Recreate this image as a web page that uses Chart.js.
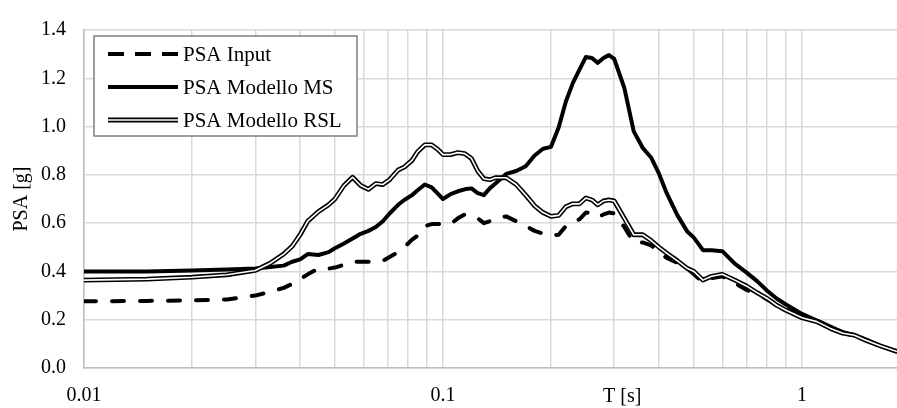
<!DOCTYPE html>
<html>
<head>
<meta charset="utf-8">
<script src="https://cdn.jsdelivr.net/npm/chart.js@4.4.1/dist/chart.umd.min.js"></script>
<style>
  html, body { margin: 0; padding: 0; background: #fff; }
</style>
</head>
<body>
<canvas id="psaChart" width="897" height="408"></canvas>
<script>
// periods T [s]
const periods = [0.01, 0.015, 0.02, 0.025, 0.03, 0.033, 0.036, 0.038, 0.04, 0.042,
  0.045, 0.048, 0.05, 0.053, 0.056, 0.059, 0.062, 0.065, 0.068, 0.071,
  0.075, 0.078, 0.082, 0.085, 0.089, 0.093, 0.097, 0.1, 0.105, 0.11,
  0.115, 0.12, 0.125, 0.13, 0.135, 0.14, 0.15, 0.16, 0.17, 0.18,
  0.19, 0.2, 0.21, 0.22, 0.23, 0.24, 0.25, 0.26, 0.27, 0.28,
  0.29, 0.3, 0.32, 0.34, 0.36, 0.38, 0.4, 0.42, 0.45, 0.48,
  0.5, 0.53, 0.56, 0.6, 0.65, 0.7, 0.75, 0.8, 0.85, 0.9,
  1.0, 1.1, 1.2, 1.3, 1.4, 1.5, 1.65, 1.84];

const psaInput = [0.276, 0.278, 0.28, 0.284, 0.30, 0.316, 0.332, 0.348, 0.368, 0.388,
  0.412, 0.412, 0.416, 0.428, 0.44, 0.44, 0.44, 0.44, 0.444, 0.46,
  0.48, 0.50, 0.532, 0.548, 0.588, 0.596, 0.596, 0.596, 0.596, 0.62,
  0.636, 0.632, 0.62, 0.60, 0.608, 0.62, 0.628, 0.608, 0.588, 0.568,
  0.556, 0.548, 0.552, 0.588, 0.604, 0.616, 0.644, 0.64, 0.624, 0.636,
  0.644, 0.64, 0.584, 0.52, 0.52, 0.508, 0.48, 0.456, 0.436, 0.412,
  0.388, 0.356, 0.372, 0.38, 0.352, 0.324, 0.308, 0.284, 0.264, 0.248,
  0.216, 0.196, 0.172, 0.148, 0.132, 0.116, 0.092, 0.068];

const psaMS = [0.40, 0.40, 0.404, 0.408, 0.412, 0.418, 0.424, 0.44, 0.45, 0.472,
  0.468, 0.48, 0.496, 0.516, 0.536, 0.556, 0.568, 0.584, 0.608, 0.64,
  0.676, 0.696, 0.716, 0.736, 0.76, 0.748, 0.72, 0.70, 0.72, 0.732,
  0.74, 0.744, 0.724, 0.716, 0.744, 0.764, 0.804, 0.816, 0.836, 0.88,
  0.908, 0.916, 0.996, 1.104, 1.18, 1.236, 1.288, 1.284, 1.264, 1.284,
  1.296, 1.28, 1.16, 0.98, 0.912, 0.872, 0.804, 0.724, 0.632, 0.564,
  0.54, 0.488, 0.488, 0.484, 0.432, 0.396, 0.36, 0.32, 0.288, 0.264,
  0.224, 0.196, 0.172, 0.148, 0.136, 0.12, 0.092, 0.068];

const psaRSL = [0.364, 0.368, 0.376, 0.386, 0.404, 0.434, 0.472, 0.504, 0.552, 0.608,
  0.648, 0.676, 0.70, 0.756, 0.79, 0.756, 0.74, 0.764, 0.76, 0.78,
  0.82, 0.832, 0.86, 0.896, 0.924, 0.924, 0.904, 0.884, 0.884, 0.892,
  0.888, 0.868, 0.816, 0.784, 0.78, 0.788, 0.788, 0.76, 0.716, 0.672,
  0.644, 0.628, 0.632, 0.668, 0.68, 0.68, 0.704, 0.696, 0.676, 0.692,
  0.696, 0.692, 0.62, 0.552, 0.552, 0.528, 0.50, 0.476, 0.444, 0.412,
  0.40, 0.364, 0.38, 0.388, 0.364, 0.34, 0.312, 0.288, 0.26, 0.24,
  0.208, 0.192, 0.164, 0.144, 0.136, 0.116, 0.092, 0.068];

const xGridTicks = [0.01, 0.02, 0.03, 0.04, 0.05, 0.06, 0.07, 0.08, 0.09,
  0.1, 0.2, 0.3, 0.4, 0.5, 0.6, 0.7, 0.8, 0.9, 1];
const xTickLabels = [0.01, 0.1, 1];

const serif = '"Liberation Serif", "Times New Roman", serif';
const pts = (vals) => periods.map((t, i) => ({ x: t, y: vals[i] }));

const boxLegend = {
  id: 'boxLegend',
  afterDatasetsDraw(chart) {
    const ctx = chart.ctx;
    const area = chart.chartArea;
    const x0 = area.left + 10, y0 = area.top + 6, w = 263, h = 100;
    ctx.save();
    ctx.fillStyle = '#fff';
    ctx.fillRect(x0, y0, w, h);
    ctx.strokeStyle = '#7f7f7f';
    ctx.lineWidth = 1.5;
    ctx.strokeRect(x0, y0, w, h);
    const rows = chart.data.datasets.filter(d => d.label);
    rows.forEach((d, i) => {
      const y = y0 + 18 + i * 33;
      ctx.beginPath();
      ctx.moveTo(x0 + 14, y);
      ctx.lineTo(x0 + 84, y);
      ctx.strokeStyle = d.borderColor;
      ctx.lineWidth = d.borderWidth;
      ctx.lineCap = 'butt';
      ctx.setLineDash(d.borderDash ? [16, 11] : []);
      ctx.stroke();
      if (d.innerLine) {
        ctx.beginPath();
        ctx.moveTo(x0 + 14, y);
        ctx.lineTo(x0 + 84, y);
        ctx.strokeStyle = '#fff';
        ctx.lineWidth = 1.6;
        ctx.stroke();
      }
      ctx.setLineDash([]);
      ctx.fillStyle = '#000';
      ctx.font = '21px ' + serif;
      ctx.textAlign = 'left';
      ctx.textBaseline = 'middle';
      ctx.fillText(d.label, x0 + 89, y + 1);
    });
    ctx.restore();
  }
};

const xTitle = {
  id: 'xTitle',
  afterDraw(chart) {
    const ctx = chart.ctx;
    const area = chart.chartArea;
    ctx.save();
    ctx.fillStyle = '#000';
    ctx.font = '20px ' + serif;
    ctx.textAlign = 'left';
    ctx.textBaseline = 'middle';
    ctx.fillText('T [s]', area.left + 519, area.bottom + 29);
    ctx.restore();
  }
};

new Chart(document.getElementById('psaChart'), {
  type: 'line',
  data: {
    datasets: [
      { label: 'PSA Input', data: pts(psaInput), borderColor: '#000', borderWidth: 4,
        borderDash: [12, 16], borderCapStyle: 'round', order: 4 },
      { label: 'PSA Modello MS', data: pts(psaMS), borderColor: '#000', borderWidth: 4, order: 3 },
      { label: 'PSA Modello RSL', data: pts(psaRSL), borderColor: '#000', borderWidth: 4.8,
        innerLine: true, order: 2 },
      { label: '', data: pts(psaRSL), borderColor: '#fff', borderWidth: 1.6, order: 1 }
    ]
  },
  options: {
    responsive: false,
    animation: false,
    devicePixelRatio: 1,
    layout: { padding: { top: 18, right: 0, left: 0, bottom: 0 } },
    elements: { point: { radius: 0 }, line: { tension: 0, borderJoinStyle: 'round' } },
    plugins: { legend: { display: false }, tooltip: { enabled: false } },
    scales: {
      x: {
        type: 'logarithmic',
        min: periods[0],
        max: periods[periods.length - 1],
        afterBuildTicks: (scale) => { scale.ticks = xGridTicks.map(v => ({ value: v })); },
        afterFit: (scale) => { scale.height = 40; },
        grid: { color: '#d9d9d9', lineWidth: 1.5, drawTicks: false },
        border: { color: '#bfbfbf', width: 1.5 },
        ticks: {
          autoSkip: false, maxRotation: 0, padding: 16, color: '#000',
          font: { family: serif, size: 20 },
          callback: (v) => xTickLabels.includes(v) ? String(v) : ''
        }
      },
      y: {
        min: 0,
        max: 1.4,
        afterFit: (scale) => { scale.width = 84; },
        grid: { color: '#d9d9d9', lineWidth: 1.5, drawTicks: false },
        border: { color: '#bfbfbf', width: 1.5 },
        ticks: {
          stepSize: 0.2, padding: 18, color: '#000',
          font: { family: serif, size: 20 },
          callback: (v) => v.toFixed(1)
        },
        title: { display: true, text: 'PSA [g]', color: '#000', padding: { top: 10, bottom: 0 },
          font: { family: serif, size: 20 } }
      }
    }
  },
  plugins: [boxLegend, xTitle]
});
</script>
</body>
</html>
